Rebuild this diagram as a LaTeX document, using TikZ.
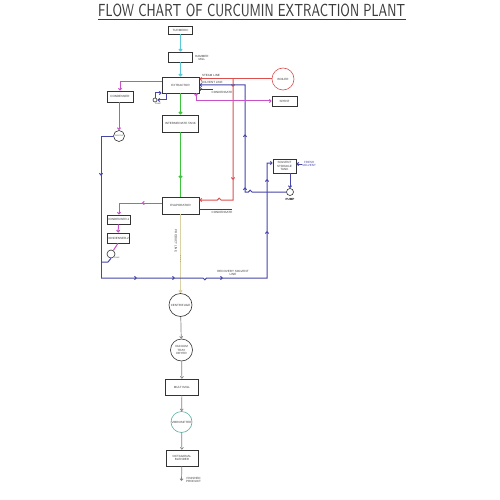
\documentclass[tikz,border=0pt]{standalone}
\usepackage{fontspec}
\setmainfont{Liberation Sans}
\usetikzlibrary{arrows.meta,decorations.markings}
\definecolor{cRed}{RGB}{220,80,80}
\definecolor{cBlue}{RGB}{70,70,170}
\definecolor{cPink}{RGB}{200,80,200}
\definecolor{cCyan}{RGB}{90,200,215}
\definecolor{cGreen}{RGB}{60,195,60}
\definecolor{cBeige}{RGB}{218,210,165}
\definecolor{cGray}{RGB}{130,130,130}
\definecolor{cTeal}{RGB}{90,175,165}
\definecolor{cText}{RGB}{60,60,60}
\begin{document}
\begin{tikzpicture}[x=1pt,y=-1pt,
  font=\fontsize{3}{3.5}\selectfont,
  >={Straight Barb[length=1.8pt,width=3.2pt]},
  lbl/.style={text=cText,inner sep=0pt,align=center},
  box/.style={draw=black!80,line width=0.6pt,inner sep=0pt,align=center,text=cText},
  circ/.style={draw=black!80,line width=0.6pt,circle,inner sep=0pt,align=center,text=cText},
  ln/.style={line width=1pt},
  redl/.style={ln,draw=cRed},
  bluel/.style={ln,draw=cBlue},
  pinkl/.style={ln,draw=cPink},
  cyanl/.style={line width=1.2pt,draw=cCyan},
  greenl/.style={line width=1.3pt,draw=cGreen},
  prodl/.style={line width=1.3pt,draw=cBeige},
  grayl/.style={line width=0.7pt,draw=cGray},
  midarr/.style={postaction={decorate},decoration={markings,mark=at position #1 with {\arrow{>}}}},
  midarrtwo/.style 2 args={postaction={decorate},decoration={markings,mark=at position #1 with {\arrow{>}},mark=at position #2 with {\arrow{>}}}},
  midarrfive/.style={postaction={decorate},decoration={markings,
     mark=at position 36pt with {\arrow{>}},mark=at position 74pt with {\arrow{>}},
     mark=at position 124pt with {\arrow{>}},mark=at position 215pt with {\arrow{>}},
     mark=at position 267pt with {\arrow{>}}}}
]
\fill[white] (0,0) rectangle (500,500);
\useasboundingbox (0,0) rectangle (500,500);

% title
\node[anchor=south west,inner sep=0pt,text=cText] (title) at (98,17)
  {\resizebox{307pt}{12.5pt}{\sffamily FLOW CHART OF CURCUMIN EXTRACTION PLANT}};
\draw[cText,line width=0.6pt] ([yshift=-2.5pt]title.south west) -- ([yshift=-2.5pt]title.south east);

% main column
\node[box,minimum width=24pt,minimum height=8pt] (tur) at (180.5,30) {TURMERIC};
\node[box,minimum width=24pt,minimum height=10pt] (ham) at (180.5,57) {};
\node[lbl,anchor=west] (hamlbl) at (195,58) {HAMMER\\MILL};
\node[box,minimum width=37pt,minimum height=16pt] (ext) at (180.5,85) {EXTRACTOR};
\node[box,minimum width=36pt,minimum height=17pt] (itank) at (180.5,123.5) {INTERMEDIATE TANK};
\node[box,minimum width=37pt,minimum height=17pt] (evap) at (180.5,205.5) {EVAPORATOR};
\node[circ,minimum size=23pt] (cent) at (180.5,305) {CENTRIFUGE};
\node[circ,minimum size=22pt] (dry) at (181.5,350) {VACUUM\\TRAY\\DRYER};
\node[box,minimum width=33pt,minimum height=16pt] (mm) at (182,387) {MULTI MILL};
\node[circ,draw=cTeal,minimum size=21pt] (sift) at (181.5,422) {VIBROSIFTER};
\node[box,minimum width=32pt,minimum height=16pt] (blend) at (182,458) {OCTAGONAL\\BLENDER};
\node[lbl,anchor=west] (fin) at (186,480) {FINISHED\\PRODUCT};
\coordinate (finend) at (181.5,481);

% right side
\node[circ,draw=cRed,minimum size=22pt] (boiler) at (283,79) {BOILER};
\node[box,minimum width=25pt,minimum height=10pt] (spent) at (284.5,101) {SPENT};
\node[box,minimum width=23pt,minimum height=14pt] (sst) at (284.5,166) {SOLVENT\\STORAGE\\TANK};
\node[circ,minimum size=7pt] (pump) at (290,192) {};
\node[lbl,text=black] (pumplbl) at (290,199) {\bfseries PUMP};
\node[lbl,text=cBlue,anchor=west] (fresh) at (302,164) {FRESH\\SOLVENT};

% left side
\node[box,minimum width=26pt,minimum height=11pt] (cond) at (120,96.5) {CONDENSER};
\node[circ,minimum size=11pt,font=\fontsize{1.8}{2}\selectfont] (ej) at (119,136) {EJECTOR};
\node[box,minimum width=23pt,minimum height=9pt] (c1) at (118.5,219.5) {CONDENSER-1};
\node[box,minimum width=22pt,minimum height=10pt] (c2) at (118,238) {CONDENSER-2};
\node[circ,minimum size=8pt] (p3) at (111,254) {};
\node[lbl,font=\fontsize{1.8}{2}\selectfont] (p3lbl) at (117,258) {PUMP};
\node[circ,minimum size=4pt] (ep) at (155,100) {};
\node[lbl,font=\fontsize{2}{2}\selectfont] (eplbl) at (158,104) {PUMP};

% labels
\node[lbl] (steamlbl) at (211,75.5) {STEAM LINE};
\node[lbl] (solvlbl) at (212,82) {SOLVENT LINE};
\node[lbl] (condlbl1) at (222,92.5) {CONDENSATE};
\node[lbl] (condlbl2) at (222,212.5) {CONDENSATE};
\node[lbl,rotate=-90] (prodlbl) at (176,241) {PRODUCT LINE};
\node[lbl] (reclbl) at (233,273) {RECOVERY SOLVENT\\LINE};

% coordinates
\coordinate (sj) at (233,79);
\coordinate (rb) at (233,200);
\coordinate (sb) at (245,192);
\coordinate (st) at (245,85);
\coordinate (ce1) at (213,89);
\coordinate (ce2) at (232,209);
\coordinate (sp) at (196,101);
\coordinate (pl) at (120,82);
\coordinate (pe) at (119,203);
\coordinate (ejl) at (101,136);
\coordinate (p3j) at (101,262);
\coordinate (rbl) at (101,278);
\coordinate (rcr) at (267,278);
\coordinate (rtop) at (267,163);
\coordinate (lp1) at (166,100);
\coordinate (lp2) at (155,93);

% main flow
\draw[cyanl,->] (tur) -- (ham);
\draw[cyanl,->] (ham) -- (ext);
\draw[greenl,->] (ext) -- (itank);
\draw[greenl,midarr=0.72] (itank) -- (evap);
\draw[prodl,->] (evap) -- (cent);
\draw[olive!60,line width=1.4pt,dash pattern=on 1pt off 1pt] (180.5,255) -- (180.5,263);
\draw[grayl,->] (cent) -- (dry);
\draw[grayl,->] (dry) -- (mm);
\draw[grayl,->] (mm) -- (sift);
\draw[grayl,->] (sift) -- (blend);
\draw[grayl,->] (blend) -- (finend);

% steam
\draw[redl,->] (boiler.west) -- (ext.east |- boiler.west);
\draw[redl,midarrtwo={8pt}{101pt},->] (sj) -- (233,200) -- (221,200)
   arc[start angle=0,end angle=-180,radius=1.8] -- (evap.east |- rb);

% solvent
\draw[bluel,midarrtwo={48pt}{101pt},->] (pump.west) -- (252,192)
   arc[start angle=0,end angle=-180,radius=1.8] -- (sb) -- (st) -- (ext.east |- st);
\draw[bluel,->] (sst.south -| pump) -- (pump.north);
\draw[bluel,->] (fresh.west) -- (sst.east |- fresh.west);

% recovery solvent
\draw[bluel,midarr=52pt] (ej.west) -- (ejl) -- (rbl);
\draw[bluel,midarrfive,->] (rbl) -- (203,278)
   arc[start angle=180,end angle=0,radius=1.8] -- (rcr) -- (rtop) -- (sst.west |- rtop);
\draw[bluel] (p3.south) -- (108,262) -- (p3j);

% condensers
\draw[pinkl,->] (ext.west |- pl) -- (pl) -- (cond.north -| pl);
\draw[pinkl,->] (cond.south -| ej) -- (ej);
\draw[pinkl,midarr=20pt,->] (evap.west |- pe) -- (pe) -- (c1.north -| pe);
\draw[pinkl,->] (c1) -- (c2);
\draw[pinkl] (c2.south) -- (p3);

% spent
\draw[pinkl,midarr=3pt,->] (ext.south -| sp) -- (sp) -- (spent.west);

% condensate
\draw[line width=0.7pt,black!75,midarr=3pt] (ext.east |- ce1) -- (ce1);
\draw[line width=0.7pt,black!75] (evap.east |- ce2) -- (ce2);

% extractor pump loop
\draw[bluel,->] (ext.south -| lp1) -- (lp1) -- (ep.east);
\draw[bluel,->] (ep.north) -- (lp2) -- (ext.west |- lp2);
\end{tikzpicture}
\end{document}
